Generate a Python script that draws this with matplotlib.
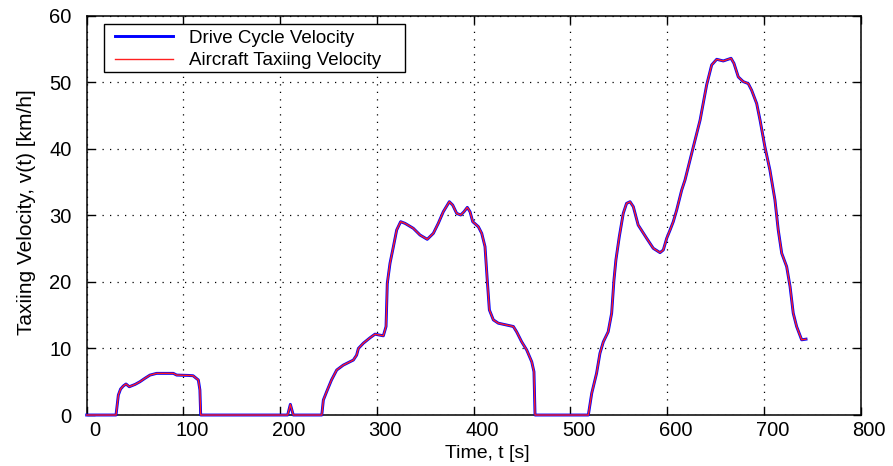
import matplotlib
matplotlib.use("Agg")
import matplotlib.pyplot as plt
import matplotlib.transforms as mtransforms
from matplotlib.patches import Rectangle

plt.rcParams["font.family"] = ["Liberation Sans", "DejaVu Sans"]

# Time stamps [s] and velocity [km/h] of the drive cycle
time_s = [
    0.0, 30.3, 32.7, 35.0, 37.8, 40.6, 44.0, 50.0, 55.0, 60.0, 65.4, 72.3,
    89.5, 93.0, 105.0, 110.0, 115.4, 117.0, 117.8,
    207.7, 210.5, 213.5,
    243.0, 244.6, 248.0, 253.0, 258.4, 265.2, 275.6, 279.0, 280.8, 286.0,
    292.8, 298.0, 306.6, 309.4, 310.7, 313.5, 317.0, 320.4, 324.5, 329.0,
    337.6, 344.5, 352.0, 358.3, 363.4, 368.6, 374.8, 378.3, 382.4, 386.6,
    390.0, 393.4, 396.2, 399.0, 404.8, 408.3, 411.7, 414.0, 416.2, 420.3,
    425.4, 441.0, 444.4, 449.6, 454.8, 460.0, 462.3, 463.4,
    518.5, 522.0, 527.0, 530.5, 534.0, 539.0, 542.6, 545.0, 547.0, 550.5,
    554.6, 558.0, 561.6, 565.0, 570.0, 578.8, 585.6, 592.6, 596.0, 599.5,
    603.0, 606.3, 609.8, 615.0, 618.4, 625.3, 634.0, 640.8, 646.0, 651.2,
    658.0, 666.0, 669.0, 673.5, 678.6, 683.8, 687.3, 692.5, 696.0, 701.0,
    706.2, 711.4, 714.8, 718.4, 723.5, 727.0, 730.3, 733.8, 739.0, 743.5,
]

drive_cycle_v = [
    0.0, 0.0, 3.0, 3.9, 4.36, 4.66, 4.25, 4.6, 5.0, 5.5, 6.0, 6.26,
    6.26, 6.0, 5.95, 5.9, 5.26, 3.76, 0.0,
    0.0, 1.6, 0.0,
    0.0, 2.25, 3.5, 5.26, 6.76, 7.5, 8.26, 9.0, 10.0, 10.8,
    11.6, 12.15, 11.9, 13.3, 19.8, 22.8, 25.3, 27.8, 29.05, 28.8,
    28.05, 27.05, 26.4, 27.3, 28.8, 30.55, 32.05, 31.55, 30.3, 30.05,
    30.55, 31.2, 30.55, 29.05, 28.3, 27.3, 25.3, 20.3, 15.8, 14.3,
    13.8, 13.3, 12.5, 11.0, 9.77, 8.0, 6.5, 0.0,
    0.0, 3.26, 6.26, 9.27, 11.0, 12.5, 15.3, 20.3, 23.3, 26.8,
    30.3, 31.8, 32.05, 31.3, 28.55, 26.55, 25.05, 24.4, 24.8, 26.55,
    27.8, 29.05, 30.8, 33.8, 35.3, 39.3, 44.3, 49.6, 52.6, 53.45,
    53.2, 53.6, 52.85, 50.8, 50.1, 49.8, 48.8, 46.8, 44.3, 40.3,
    36.8, 32.3, 27.8, 24.3, 22.3, 19.3, 15.3, 13.3, 11.3, 11.4,
]

# The aircraft taxiing profile tracks the drive cycle
aircraft_v = list(drive_cycle_v)

x_ticks = [0, 100, 200, 300, 400, 500, 600, 700, 800]
y_ticks = [0, 10, 20, 30, 40, 50, 60]

fig = plt.figure(figsize=(8.93, 4.66), dpi=100)
ax = fig.add_axes([0.0971, 0.1094, 0.8667, 0.8569])

ax.plot(time_s, drive_cycle_v, color="#0000ff", lw=2.1,
        label="Drive Cycle Velocity", clip_on=False, zorder=4)
ax.plot(time_s, aircraft_v, color="#ff2020", lw=1.0,
        label="Aircraft Taxiing Velocity", clip_on=False, zorder=5)

ax.set_xlim(0, 800)
ax.set_ylim(0, 60)
ax.set_xticks(x_ticks)
ax.set_yticks(y_ticks)

ax.grid(True, color="black", linestyle=(0, (1, 5)), linewidth=0.9)
ax.tick_params(direction="in", length=5.5, width=1.0, top=True, right=True,
               labelsize=14.5, colors="black")
ax.tick_params(axis="x", pad=4)
ax.tick_params(axis="y", pad=11)
for sp in ax.spines.values():
    sp.set_linewidth(1.1)
    sp.set_zorder(3)

# x tick labels sit slightly to the right of their ticks
shift = mtransforms.ScaledTranslation(8.5 / 100, 0, fig.dpi_scale_trans)
for lab in ax.get_xticklabels():
    lab.set_transform(lab.get_transform() + shift)

ax.set_xlabel("Time, t [s]", fontsize=14)
ax.xaxis.set_label_coords(0.517, -0.075)
ax.set_ylabel("Taxiing Velocity, v(t) [km/h]", fontsize=15)
ax.yaxis.set_label_coords(-0.066, 0.507)

# legend box drawn as a plain rectangle, entries placed inside it
box = Rectangle((0.0224, 0.859), 0.4112 - 0.0224, 0.979 - 0.859,
                transform=ax.transAxes, facecolor="white", edgecolor="black",
                linewidth=1.0, zorder=6)
ax.add_patch(box)
leg = ax.legend(loc="upper left", bbox_to_anchor=(0.0366, 0.9645),
                borderaxespad=0, fontsize=13.5, frameon=False,
                handlelength=3.1, handletextpad=0.85, labelspacing=0.27,
                borderpad=0.0)
leg.set_zorder(7)

fig.savefig("out.png", dpi=100)
